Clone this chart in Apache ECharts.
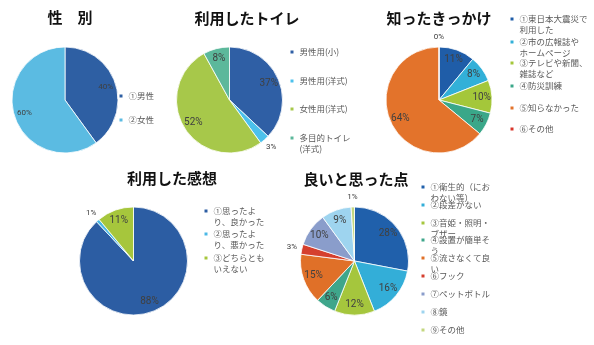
<!DOCTYPE html>
<html><head><meta charset="utf-8">
<script src="https://cdn.jsdelivr.net/npm/echarts@6/dist/echarts.min.js"></script>
<style>html,body{margin:0;padding:0;background:#fff}#c{width:594px;height:345px}</style>
</head><body><div id="c"></div>
<script>
// ---- data ----
const genderTitle = '性　別';
const genderNames = ['①男性', '②女性'];
const genderValues = [40, 60];

const toiletTitle = '利用したトイレ';
const toiletNames = ['男性用(小)', '男性用(洋式)', '女性用(洋式)', '多目的トイレ\n(洋式)'];
const toiletValues = [37, 3, 52, 8];

const sourceTitle = '知ったきっかけ';
const sourceNames = ['①東日本大震災で\n利用した', '②市の広報誌や\nホームページ', '③テレビや新聞、\n雑誌など', '④防災訓練', '⑤知らなかった', '⑥その他'];
const sourceValues = [11, 8, 10, 7, 64, 0];

const impressionTitle = '利用した感想';
const impressionNames = ['①思ったよ\nり、良かった', '②思ったよ\nり、悪かった', '③どちらとも\nいえない'];
const impressionValues = [88, 1, 11];

const goodTitle = '良いと思った点';
const goodNames = ['①衛生的（にお\nわない等）', '②段差がない', '③音姫・照明・\nブザー', '④設置が簡単そ\nう', '⑤流さなくて良\nい', '⑥フック', '⑦ペットボトル', '⑧鏡', '⑨その他'];
const goodValues = [28, 16, 12, 6, 15, 3, 10, 9, 1];

// ---- styling / layout ----
const FONT = '"Noto Sans CJK JP", "Noto Sans", sans-serif';
const NUMFONT = 'Roboto, "Noto Sans", sans-serif';
const charts = [
  { title: genderTitle, names: genderNames, values: genderValues, tx: 70, ty: 10, c: [65, 100], r: 53,
    colors: ['#2e5fa3', '#5bbbe2'], outside: [], labelSize: 8,
    lx: 120, ly: [96, 120] },
  { title: toiletTitle, names: toiletNames, values: toiletValues, tx: 247, ty: 11, c: [229.5, 100], r: 53,
    colors: ['#2f5fa5', '#4cc1ec', '#a7c84a', '#5cb89b'], outside: [1], labelSize: 10,
    lx: 291, ly: [52, 81, 109, 138] },
  { title: sourceTitle, names: sourceNames, values: sourceValues, tx: 439, ty: 11, c: [439, 100], r: 53,
    colors: ['#1f5da8', '#32b0d8', '#a4c73a', '#3aa789', '#e3732b', '#d9352a'], outside: [5], labelSize: 10,
    lx: 511, ly: [19, 42, 63, 86, 108, 129] },
  { title: impressionTitle, names: impressionNames, values: impressionValues, tx: 172, ty: 171, c: [133.5, 261], r: 54,
    colors: ['#2c5da3', '#4ab8e6', '#a6c63c'], outside: [1], labelSize: 10,
    lx: 205, ly: [211, 234, 258] },
  { title: goodTitle, names: goodNames, values: goodValues, tx: 356, ty: 172, c: [354.5, 261], r: 54,
    colors: ['#2060ab', '#33aed8', '#a5c63d', '#3fa68b', '#e07028', '#d53f2e', '#8a9dcb', '#9ed4ef', '#c3d77f'], outside: [5, 8], labelSize: 10,
    lx: 422, ly: [187, 205, 223, 240, 258, 276, 294, 312, 330] }
];

const LH = 10.5;
const option = { animation: false, title: [], legend: [], series: [] };

charts.forEach(ch => {
  option.title.push({
    text: ch.title, left: ch.tx, top: ch.ty, textAlign: 'center', padding: 0,
    textStyle: { fontFamily: FONT, fontSize: 15, fontWeight: 'bold', color: '#111' }
  });
  const base = {
    type: 'pie', center: ch.c, startAngle: 90, clockwise: true, avoidLabelOverlap: false,
    labelLine: { show: false }, emphasis: { disabled: true }, silent: true
  };
  option.series.push(Object.assign({}, base, {
    radius: [0, ch.r],
    label: { show: false },
    itemStyle: { borderColor: '#fff', borderWidth: 0.8 },
    data: ch.names.map((n, i) => ({ name: n, value: ch.values[i], itemStyle: { color: ch.colors[i] } }))
  }));
  option.series.push(Object.assign({}, base, {
    radius: [ch.r * 0.5, ch.r],
    itemStyle: { color: 'rgba(0,0,0,0)', borderWidth: 0 },
    label: { show: true, position: 'inside', formatter: '{c}%', fontFamily: NUMFONT, fontSize: ch.labelSize, color: '#404040' },
    data: ch.names.map((n, i) => ({ name: n, value: ch.values[i], label: { show: ch.outside.indexOf(i) < 0 } }))
  }));
  option.series.push(Object.assign({}, base, {
    radius: [ch.r, ch.r * 1.26],
    itemStyle: { color: 'rgba(0,0,0,0)', borderWidth: 0 },
    label: { show: true, position: 'inside', formatter: '{c}%', fontFamily: NUMFONT, fontSize: 8, color: '#404040' },
    data: ch.names.map((n, i) => ({ name: n, value: ch.values[i], label: { show: ch.outside.indexOf(i) >= 0 } }))
  }));
  ch.names.forEach((n, i) => {
    const two = n.indexOf('\n') >= 0;
    option.legend.push({
      left: ch.lx - 2.5, top: ch.ly[i] - (two ? 1.5 : 0.5) * LH, padding: 0,
      orient: 'vertical', itemWidth: 5, itemHeight: 5, icon: 'rect', selectedMode: false,
      data: [n],
      formatter: name => (name.indexOf('\n') >= 0 ? '\n' + name : name),
      textStyle: { fontFamily: FONT, fontSize: 8.5, color: '#595959', lineHeight: LH }
    });
  });
});

const chart = echarts.init(document.getElementById('c'), null, { renderer: 'canvas' });
chart.setOption(option);
</script></body></html>
